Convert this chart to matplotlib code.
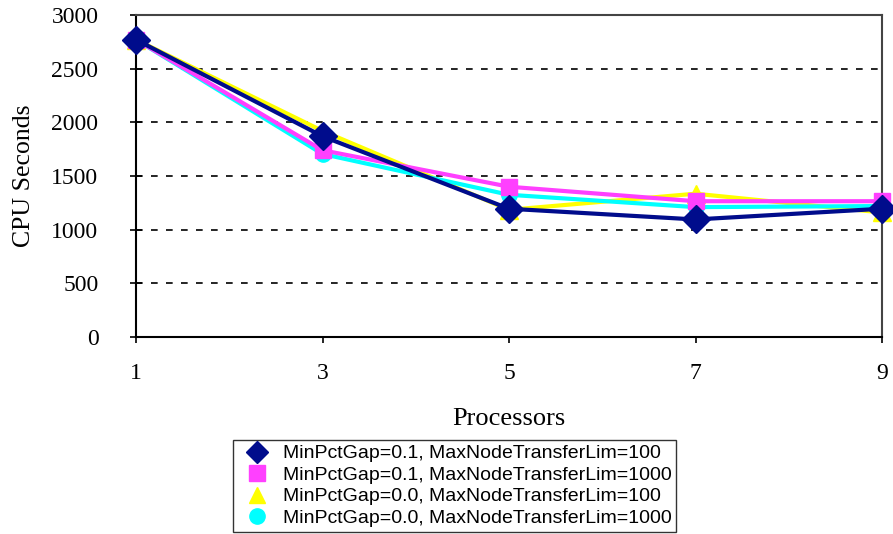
import matplotlib
matplotlib.use("Agg")
import matplotlib.pyplot as plt

processors = [1, 3, 5, 7, 9]
s_gap01_lim100 = [2770, 1870, 1195, 1095, 1195]
s_gap01_lim1000 = [2770, 1740, 1400, 1265, 1265]
s_gap00_lim100 = [2770, 1920, 1185, 1335, 1160]
s_gap00_lim1000 = [2770, 1705, 1325, 1210, 1220]
labels = ["MinPctGap=0.1, MaxNodeTransferLim=100",
          "MinPctGap=0.1, MaxNodeTransferLim=1000",
          "MinPctGap=0.0, MaxNodeTransferLim=100",
          "MinPctGap=0.0, MaxNodeTransferLim=1000"]
yticks = [0, 500, 1000, 1500, 2000, 2500, 3000]

fig = plt.figure(figsize=(8.93, 5.34), dpi=100)
ax = fig.add_axes([136/893, 1-337/534, (882-136)/893, (337-15)/534])

serif = ["Liberation Serif", "DejaVu Serif"]
sans = ["Liberation Sans", "DejaVu Sans"]

h_yel, = ax.plot(processors, s_gap00_lim100, color="#FFFF00", lw=3, marker="^", ms=13, zorder=3, label=labels[2], clip_on=False)
h_cyan, = ax.plot(processors, s_gap00_lim1000, color="#00FFFF", lw=3, marker="o", ms=11, zorder=4, label=labels[3], clip_on=False)
h_mag, = ax.plot(processors, s_gap01_lim1000, color="#FF40FF", lw=3, marker="s", ms=12, zorder=5, label=labels[1], clip_on=False)
h_navy, = ax.plot(processors, s_gap01_lim100, color="#000C8C", lw=3, marker="D", ms=14, zorder=6, label=labels[0], clip_on=False)

ax.set_xlim(1, 9)
ax.set_ylim(0, 3000)
ax.set_xticks(processors)
ax.set_yticks(yticks)
for y in yticks[1:-1]:
    ax.axhline(y, color="black", lw=1.2, ls=(0, (4, 5)), zorder=1)
for sp in ax.spines.values():
    sp.set_color("black")
    sp.set_linewidth(1.5)
ax.spines["top"].set_color("#444444")
ax.spines["right"].set_color("#444444")
ax.tick_params(axis="y", direction="inout", length=8, width=1.2, pad=23)
ax.tick_params(axis="x", direction="out", length=4, width=1.2, pad=15)
for t in ax.get_xticklabels() + ax.get_yticklabels():
    t.set_fontfamily(serif)
    t.set_fontsize(17)
ax.set_ylabel("CPU Seconds", fontsize=18.5, family=serif, labelpad=12)
ax.set_xlabel("Processors", fontsize=19, family=serif, labelpad=17)

leg = fig.legend(handles=[h_navy, h_mag, h_yel, h_cyan], loc="upper left",
                 bbox_to_anchor=(233/893, 1-440/534), frameon=True, fancybox=False,
                 prop={"family": sans, "size": 14}, handlelength=2.0,
                 borderpad=0.25, labelspacing=0.2, handletextpad=0.3, borderaxespad=0)
leg.get_frame().set_edgecolor("black")
leg.get_frame().set_linewidth(1.0)
for h in leg.legend_handles:
    h.set_linestyle("none")
    h.set_markersize(11)

fig.savefig("out.png", dpi=100)
